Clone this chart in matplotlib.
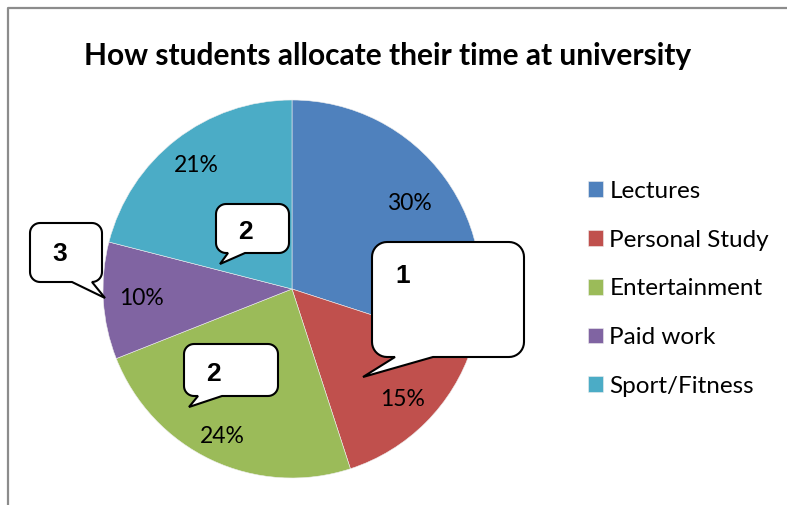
"""Pie chart of how students split their time at university, with numbered callouts."""

import numpy as np
import matplotlib

matplotlib.use("Agg")
import matplotlib.pyplot as plt
from matplotlib.patches import PathPatch
from matplotlib.path import Path

CATEGORIES = ["Lectures", "Personal Study", "Entertainment", "Paid work", "Sport/Fitness"]
SHARES = [30, 15, 24, 10, 21]
COLORS = ["#4F81BD", "#C0504D", "#9BBB59", "#8064A2", "#4BACC6"]
TITLE = "How students allocate their time at university"
CALLOUT_NUMBERS = ["1", "2", "3", "2"]

W, H = 787, 505
FONT = "Lato"
# radial position of each percentage label, as a fraction of the radius
LABEL_DIST = [0.77, 0.83, 0.86, 0.80, 0.83]


def _y(py):
    return H - py


def bubble_path(box, base, tip, r):
    x0, top, x1, bottom = box
    yt, yb = _y(top), _y(bottom)
    pts = []

    def arc(cx, cy, a0, a1):
        for a in np.linspace(a0, a1, 10):
            pts.append((cx + r * np.cos(a), cy + r * np.sin(a)))

    arc(x0 + r, yb + r, np.pi, 1.5 * np.pi)
    pts.append((base[0], yb))
    pts.append((tip[0], _y(tip[1])))
    pts.append((base[1], yb))
    arc(x1 - r, yb + r, 1.5 * np.pi, 2 * np.pi)
    arc(x1 - r, yt - r, 0, 0.5 * np.pi)
    arc(x0 + r, yt - r, 0.5 * np.pi, np.pi)
    pts.append(pts[0])
    codes = [Path.MOVETO] + [Path.LINETO] * (len(pts) - 2) + [Path.CLOSEPOLY]
    return Path(pts, codes)


fig = plt.figure(figsize=(W / 100, H / 100), dpi=100)
ax = fig.add_axes([0, 0, 1, 1])

center = (292, _y(289))
radius = 189
wedges, _, autotexts = ax.pie(
    SHARES,
    colors=COLORS,
    startangle=90,
    counterclock=False,
    center=center,
    radius=radius,
    autopct="%d%%",
    wedgeprops=dict(edgecolor="#eeeeee", linewidth=0.4),
    textprops=dict(fontsize=16.5, family=FONT, color="black"),
    frame=True,
)
for wedge, txt, dist in zip(wedges, autotexts, LABEL_DIST):
    mid = np.deg2rad(0.5 * (wedge.theta1 + wedge.theta2))
    txt.set_position((center[0] + dist * radius * np.cos(mid),
                      center[1] + dist * radius * np.sin(mid)))

ax.set_xlim(0, W)
ax.set_ylim(0, H)
ax.set_aspect("equal")
ax.axis("off")

# chart frame (left and top edges only)
ax.plot([7.5, 7.5, W], [0, _y(7.5), _y(7.5)], color="#8c8c8c", lw=1.6, solid_capstyle="butt")

ax.text(388, _y(56), TITLE, ha="center", va="center", fontsize=21.5, fontweight="bold",
        family=FONT, color="black")

ax.legend(
    wedges,
    CATEGORIES,
    loc="upper left",
    bbox_to_anchor=(566 / W, 1 - 159 / H),
    frameon=False,
    prop=dict(family=FONT, size=17.5),
    handlelength=0.62,
    handleheight=0.62,
    handletextpad=0.26,
    labelspacing=1.14,
)

# callout boxes: (left, top, right, bottom), tail base x-range, tail tip -- pixel units, y down
boxes = [(372, 242, 524, 357), (216, 204, 289, 253), (30, 223, 102, 282), (184, 344, 278, 396)]
bases = [(395, 433), (228, 245), (72, 92), (198, 222)]
tips = [(363, 377), (220, 264), (105, 298), (189, 407)]
radii = [15, 10, 10, 10]
label_pos = [(403, 276), (245, 232), (60, 254), (213, 374)]

for num, box, base, tip, rad, (lx, ly) in zip(CALLOUT_NUMBERS, boxes, bases, tips, radii, label_pos):
    ax.add_patch(PathPatch(bubble_path(box, base, tip, rad), facecolor="white",
                           edgecolor="black", lw=1.5, zorder=5, joinstyle="miter"))
    ax.text(lx, _y(ly), num, ha="center", va="center", fontsize=19, fontweight="bold",
            family="Liberation Sans", zorder=6)

fig.savefig("out.png", dpi=100)
